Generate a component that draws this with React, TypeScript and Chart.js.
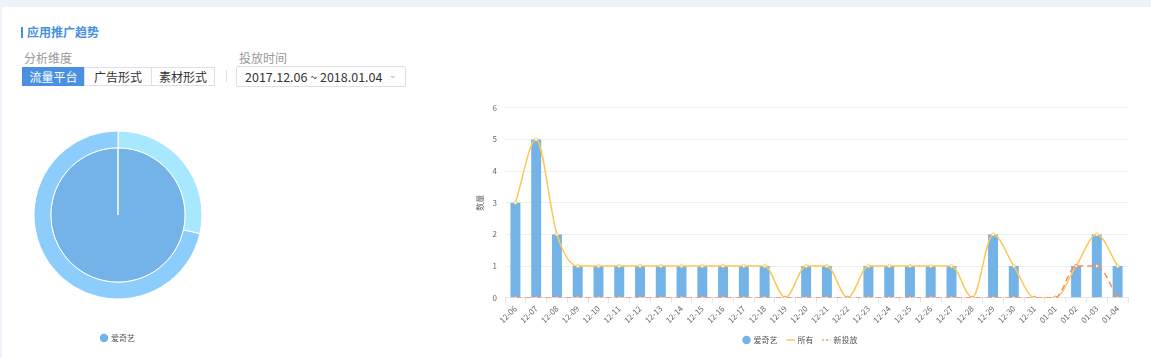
import React, { useEffect, useRef } from "react";
import { Chart, registerables } from "chart.js";

Chart.register(...registerables);

const FONT = "'Noto Sans CJK SC', 'Noto Sans', sans-serif";

const categories = [
  "12-06", "12-07", "12-08", "12-09", "12-10", "12-11", "12-12", "12-13", "12-14", "12-15",
  "12-16", "12-17", "12-18", "12-19", "12-20", "12-21", "12-22", "12-23", "12-24", "12-25",
  "12-26", "12-27", "12-28", "12-29", "12-30", "12-31", "01-01", "01-02", "01-03", "01-04",
];
const iqiyiValues = [3, 5, 2, 1, 1, 1, 1, 1, 1, 1, 1, 1, 1, 0, 1, 1, 0, 1, 1, 1, 1, 1, 0, 2, 1, 0, 0, 1, 2, 1];
const allValues = [3, 5, 2, 1, 1, 1, 1, 1, 1, 1, 1, 1, 1, 0, 1, 1, 0, 1, 1, 1, 1, 1, 0, 2, 1, 0, 0, 1, 2, 1];
const newValues = [0, 0, 0, 0, 0, 0, 0, 0, 0, 0, 0, 0, 0, 0, 0, 0, 0, 0, 0, 0, 0, 0, 0, 0, 0, 0, 0, 1, 1, 0];
const yTicks = [0, 1, 2, 3, 4, 5, 6];

const pieLabels = ["爱奇艺"];
const pieInner = [1];
const ringLabels = ["新投放", "所有"];
const ringValues = [2, 5];

const BAR_COLOR = "#74b3e8";
const ALL_COLOR = "#fcc85c";
const NEW_COLOR = "#f4915e";

function PieChart() {
  const ref = useRef<HTMLCanvasElement>(null);
  useEffect(() => {
    const chart = new Chart(ref.current!, {
      type: "doughnut",
      data: {
        labels: pieLabels,
        datasets: [
          {
            label: "ring",
            data: ringValues,
            backgroundColor: ["#a8e8ff", "#8dcdfc"],
            borderColor: "#ffffff",
            borderWidth: 1,
            weight: 1,
          } as any,
          {
            label: "爱奇艺",
            data: pieInner,
            backgroundColor: [BAR_COLOR],
            borderColor: "#ffffff",
            borderWidth: 1,
            weight: 4,
          } as any,
        ],
      },
      options: {
        responsive: false,
        animation: false,
        cutout: 0,
        radius: 84,
        layout: { padding: { top: 6, bottom: 6 } },
        plugins: {
          tooltip: { enabled: false },
          legend: {
            position: "bottom",
            labels: {
              font: { family: FONT, size: 8 },
              color: "#555",
              usePointStyle: true,
              boxWidth: 6,
              boxHeight: 6,
              generateLabels: () =>
                pieLabels.map((l, i) => ({
                  text: l,
                  fillStyle: BAR_COLOR,
                  strokeStyle: BAR_COLOR,
                  lineWidth: 0,
                  pointStyle: "circle",
                  hidden: false,
                  index: i,
                  fontColor: "#555",
                })),
            },
          },
        },
      } as any,
    });
    return () => chart.destroy();
  }, []);
  return <canvas ref={ref} width={236} height={258} style={{ position: "absolute", left: 0, top: 100 }} />;
}

function BarChart() {
  const ref = useRef<HTMLCanvasElement>(null);
  useEffect(() => {
    const chart = new Chart(ref.current!, {
      data: {
        labels: categories,
        datasets: [
          {
            type: "line",
            label: "所有",
            data: allValues,
            borderColor: ALL_COLOR,
            backgroundColor: "#ffffff",
            borderWidth: 1.5,
            pointRadius: 1.5,
            pointBorderWidth: 1,
            pointBorderColor: ALL_COLOR,
            pointBackgroundColor: "#fff",
            cubicInterpolationMode: "monotone",
            order: 1,
          },
          {
            type: "line",
            label: "新投放",
            data: newValues,
            borderColor: NEW_COLOR,
            backgroundColor: "#ffffff",
            borderWidth: 1.5,
            borderDash: [6, 4],
            pointRadius: 1.5,
            pointBorderWidth: 1,
            pointBorderColor: NEW_COLOR,
            pointBackgroundColor: "#fff",
            cubicInterpolationMode: "monotone",
            order: 0,
          },
          {
            type: "bar",
            label: "爱奇艺",
            data: iqiyiValues,
            backgroundColor: BAR_COLOR,
            borderWidth: 0,
            barPercentage: 0.6,
            categoryPercentage: 0.8,
            order: 2,
          },
        ],
      } as any,
      options: {
        responsive: false,
        animation: false,
        layout: { padding: { left: 3, right: 23, top: 2, bottom: 4 } },
        scales: {
          x: {
            offset: true,
            grid: {
              offset: true,
              drawOnChartArea: false,
              drawTicks: true,
              tickLength: 5,
              color: "#dfe6f2",
            },
            border: { color: "#dfe6f2" },
            ticks: {
              autoSkip: false,
              maxRotation: 45,
              minRotation: 45,
              font: { family: FONT, size: 8 },
              color: "#666",
              padding: 1,
            },
          },
          y: {
            min: 0,
            max: 6,
            afterBuildTicks: (axis: any) => {
              axis.ticks = yTicks.map((v) => ({ value: v }));
            },
            grid: { color: "#eeeeee", drawTicks: false },
            border: { display: false },
            ticks: { font: { family: FONT, size: 8 }, color: "#666", padding: 8 },
            title: {
              display: true,
              text: "数量",
              font: { family: FONT, size: 8 },
              color: "#666",
              padding: { top: 2, bottom: 0 },
            },
          },
        },
        plugins: {
          tooltip: { enabled: false },
          legend: {
            position: "bottom",
            labels: {
              font: { family: FONT, size: 8 },
              color: "#555",
              usePointStyle: true,
              boxWidth: 6,
              boxHeight: 6,
              padding: 10,
              generateLabels: () => [
                { text: "爱奇艺", fillStyle: BAR_COLOR, strokeStyle: BAR_COLOR, lineWidth: 0, pointStyle: "circle", datasetIndex: 2, fontColor: "#555" },
                { text: "所有", fillStyle: ALL_COLOR, strokeStyle: ALL_COLOR, lineWidth: 1.5, pointStyle: "line", datasetIndex: 0, fontColor: "#555" },
                { text: "新投放", fillStyle: NEW_COLOR, strokeStyle: NEW_COLOR, lineWidth: 1.5, lineDash: [2, 2], pointStyle: "line", datasetIndex: 1, fontColor: "#555" },
              ],
            },
          },
        },
      } as any,
    });
    return () => chart.destroy();
  }, []);
  return <canvas ref={ref} width={681} height={263} style={{ position: "absolute", left: 470, top: 95 }} />;
}

const btnBase: React.CSSProperties = {
  position: "absolute",
  top: 67,
  height: 19,
  lineHeight: "18px",
  fontSize: 12,
  textAlign: "center",
  boxSizing: "border-box",
  border: "1px solid #dcdfe6",
  color: "#333",
  background: "#fff",
};

export default function App() {
  return (
    <div
      style={{
        position: "absolute",
        left: 0,
        top: 0,
        width: 1151,
        height: 358,
        background: "#eef3fb",
        fontFamily: FONT,
        overflow: "hidden",
      }}
    >
      <div style={{ position: "absolute", left: 2, top: 7, width: 1149, height: 351, background: "#fff" }} />
      <div style={{ position: "absolute", left: 21, top: 27, width: 2, height: 11, background: "#4a90e2" }} />
      <div style={{ position: "absolute", left: 27, top: 23, fontSize: 12, fontWeight: "bold", color: "#4a90e2", lineHeight: "18px" }}>
        应用推广趋势
      </div>
      <div style={{ position: "absolute", left: 24, top: 50, fontSize: 12, color: "#999", lineHeight: "16px" }}>分析维度</div>
      <div style={{ ...btnBase, left: 22, width: 63, background: "#4a90e2", border: "1px solid #4a90e2", color: "#fff" }}>流量平台</div>
      <div style={{ ...btnBase, left: 84, width: 68 }}>广告形式</div>
      <div style={{ ...btnBase, left: 151, width: 64 }}>素材形式</div>
      <div style={{ position: "absolute", left: 226, top: 70, width: 1, height: 12, background: "#e3e3e3" }} />
      <div style={{ position: "absolute", left: 239, top: 50, fontSize: 12, color: "#999", lineHeight: "16px" }}>投放时间</div>
      <div
        style={{
          position: "absolute",
          left: 236,
          top: 66,
          width: 170,
          height: 21,
          boxSizing: "border-box",
          border: "1px solid #dcdfe6",
          borderRadius: 2,
          fontSize: 12.5,
          lineHeight: "19px",
          color: "#333",
          paddingLeft: 8,
        }}
      >
        2017.12.06 ~ 2018.01.04
        <span style={{ position: "absolute", right: 8, top: -2, fontSize: 9, color: "#aaa" }}>⌄</span>
      </div>
      <PieChart />
      <BarChart />
    </div>
  );
}
